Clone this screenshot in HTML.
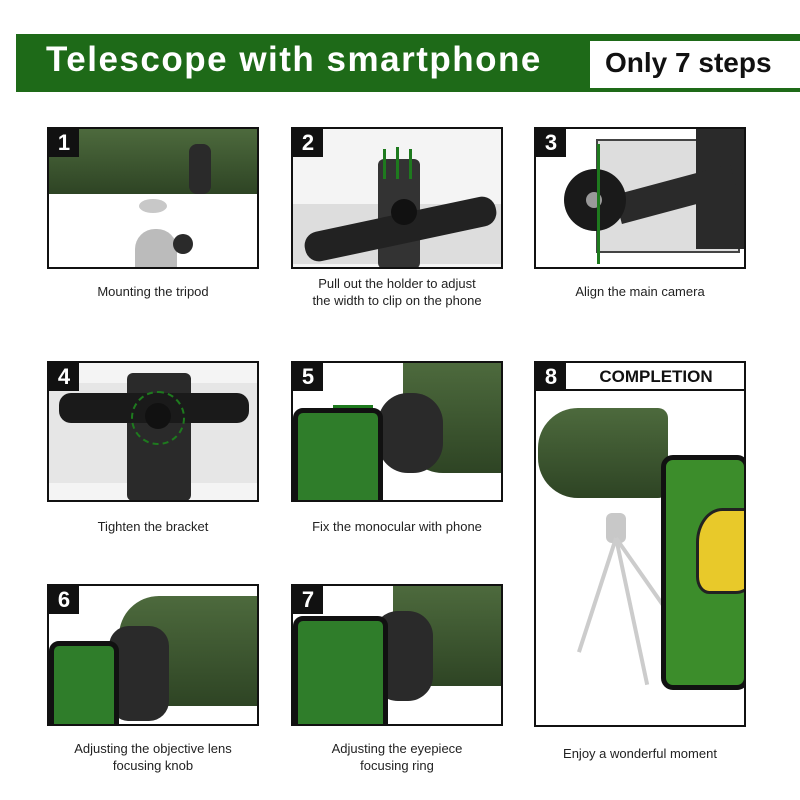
<!DOCTYPE html>
<html><head><meta charset="utf-8"><style>
body{margin:0;width:800px;height:800px;background:#fff;position:relative;overflow:hidden;font-family:"Liberation Sans",sans-serif}
.bar{position:absolute;left:16px;top:34px;width:784px;height:58px;background:#1e6a18}
.title{position:absolute;left:46px;top:40px;font-size:35px;font-weight:bold;color:#fff;letter-spacing:1.5px}
.only{position:absolute;left:590px;top:41px;width:210px;height:47px;background:#fff}
.only span{position:absolute;left:15px;top:6px;font-size:28px;font-weight:bold;color:#111}
.p{position:absolute;border:2px solid #111;box-sizing:border-box;overflow:hidden;background:#f4f4f4}
.n{position:absolute;left:0;top:0;width:30px;height:28px;background:#111;color:#fff;font-weight:bold;font-size:22px;text-align:center;line-height:28px;z-index:5}
.c{position:absolute;width:240px;text-align:center;font-size:13px;color:#222;line-height:17px}
.g{position:absolute;background:linear-gradient(180deg,#4d6a3d,#2e4424)}
.k{position:absolute;background:#2a2a2a}
.s{position:absolute;background:#c8c8c8}
</style></head><body>
<div class="bar"></div>
<div class="title">Telescope with smartphone</div>
<div class="only"><span>Only 7 steps</span></div>

<!-- 1 -->
<div class="p" style="left:47px;top:127px;width:212px;height:142px;background:#fff">
 <div class="g" style="left:0;top:0;width:210px;height:65px"></div>
 <div class="k" style="left:140px;top:15px;width:22px;height:50px;border-radius:8px"></div>
 <div class="s" style="left:90px;top:70px;width:28px;height:14px;border-radius:50%"></div>
 <div class="s" style="left:86px;top:100px;width:42px;height:40px;border-radius:20px 20px 0 0;background:#bbb"></div>
 <div class="k" style="left:124px;top:105px;width:20px;height:20px;border-radius:50%"></div>
 <div class="n">1</div>
</div>
<div class="c" style="left:33px;top:283px">Mounting the tripod</div>

<!-- 2 -->
<div class="p" style="left:291px;top:127px;width:212px;height:142px">
 <div style="position:absolute;left:0;top:75px;width:210px;height:60px;background:#ddd"></div>
 <div class="k" style="left:85px;top:30px;width:42px;height:110px;border-radius:6px;background:#333"></div>
 <div class="k" style="left:10px;top:85px;width:195px;height:30px;border-radius:14px;transform:rotate(-12deg);background:#222"></div>
 <div class="k" style="left:98px;top:70px;width:26px;height:26px;border-radius:50%;background:#111"></div>
 <div style="position:absolute;left:90px;top:20px;width:3px;height:30px;background:#1e7a1e"></div>
 <div style="position:absolute;left:103px;top:18px;width:3px;height:32px;background:#1e7a1e"></div>
 <div style="position:absolute;left:116px;top:20px;width:3px;height:30px;background:#1e7a1e"></div>
 <div class="n">2</div>
</div>
<div class="c" style="left:277px;top:275px">Pull out the holder to adjust<br>the width to clip on the phone</div>

<!-- 3 -->
<div class="p" style="left:534px;top:127px;width:212px;height:142px;background:#fff">
 <div style="position:absolute;left:60px;top:10px;width:140px;height:110px;background:#ddd;border:2px solid #444"></div>
 <div class="k" style="left:160px;top:0;width:50px;height:120px"></div>
 <div class="k" style="left:80px;top:50px;width:120px;height:30px;transform:rotate(-15deg)"></div>
 <div class="k" style="left:28px;top:40px;width:62px;height:62px;border-radius:50%;background:#1a1a1a"></div>
 <div style="position:absolute;left:50px;top:63px;width:16px;height:16px;border-radius:50%;background:#999"></div>
 <div style="position:absolute;left:61px;top:15px;width:3px;height:120px;background:#1e7a1e"></div>
 <div class="n">3</div>
</div>
<div class="c" style="left:520px;top:283px">Align the main camera</div>

<!-- 4 -->
<div class="p" style="left:47px;top:361px;width:212px;height:141px">
 <div style="position:absolute;left:0;top:20px;width:210px;height:100px;background:#e6e6e6"></div>
 <div class="k" style="left:78px;top:10px;width:64px;height:128px;border-radius:6px"></div>
 <div class="k" style="left:10px;top:30px;width:190px;height:30px;border-radius:12px;background:#1a1a1a"></div>
 <div style="position:absolute;left:82px;top:28px;width:50px;height:50px;border-radius:50%;border:2px dashed #1e7a1e"></div>
 <div class="k" style="left:96px;top:40px;width:26px;height:26px;border-radius:50%;background:#111"></div>
 <div class="n">4</div>
</div>
<div class="c" style="left:33px;top:518px">Tighten the bracket</div>

<!-- 5 -->
<div class="p" style="left:291px;top:361px;width:212px;height:141px;background:#fff">
 <div class="g" style="left:110px;top:0;width:100px;height:110px;border-radius:0 0 0 40px"></div>
 <div class="k" style="left:85px;top:30px;width:65px;height:80px;border-radius:30px"></div>
 <div style="position:absolute;left:0;top:45px;width:80px;height:95px;background:#2f7d2a;border:5px solid #111;border-radius:10px"></div>
 <div style="position:absolute;left:40px;top:42px;width:40px;height:3px;background:#1e7a1e"></div>
 <div class="n">5</div>
</div>
<div class="c" style="left:277px;top:518px">Fix the monocular with phone</div>

<!-- 6 -->
<div class="p" style="left:47px;top:584px;width:212px;height:142px;background:#fff">
 <div class="g" style="left:70px;top:10px;width:140px;height:110px;border-radius:40px 0 0 20px"></div>
 <div class="k" style="left:60px;top:40px;width:60px;height:95px;border-radius:20px"></div>
 <div style="position:absolute;left:0;top:55px;width:60px;height:90px;background:#2f7d2a;border:5px solid #111;border-radius:10px"></div>
 <div class="n">6</div>
</div>
<div class="c" style="left:33px;top:740px">Adjusting the objective lens<br>focusing knob</div>

<!-- 7 -->
<div class="p" style="left:291px;top:584px;width:212px;height:142px;background:#fff">
 <div class="g" style="left:100px;top:0;width:110px;height:100px;border-radius:0 0 0 30px"></div>
 <div class="k" style="left:80px;top:25px;width:60px;height:90px;border-radius:25px"></div>
 <div style="position:absolute;left:0;top:30px;width:85px;height:110px;background:#2f7d2a;border:5px solid #111;border-radius:10px"></div>
 <div class="n">7</div>
</div>
<div class="c" style="left:277px;top:740px">Adjusting the eyepiece<br>focusing ring</div>

<!-- 8 -->
<div class="p" style="left:534px;top:361px;width:212px;height:366px;background:#fff">
 <div class="n" style="width:30px">8</div>
 <div style="position:absolute;left:30px;top:0;width:180px;height:26px;border-bottom:2px solid #111;font-weight:bold;font-size:17px;text-align:center;line-height:28px;color:#111">COMPLETION</div>
 <div class="g" style="left:2px;top:45px;width:130px;height:90px;border-radius:40px 10px 10px 40px"></div>
 <div class="s" style="left:70px;top:150px;width:20px;height:30px;border-radius:6px"></div>
 <div style="position:absolute;left:78px;top:175px;width:4px;height:120px;background:#ccc;transform:rotate(18deg);transform-origin:top"></div>
 <div style="position:absolute;left:78px;top:175px;width:4px;height:150px;background:#ccc;transform:rotate(-12deg);transform-origin:top"></div>
 <div style="position:absolute;left:78px;top:175px;width:4px;height:150px;background:#ccc;transform:rotate(-35deg);transform-origin:top"></div>
 <div style="position:absolute;left:125px;top:92px;width:78px;height:225px;background:#3c8d2b;border:5px solid #111;border-radius:12px"></div>
 <div style="position:absolute;left:160px;top:145px;width:60px;height:80px;background:#e8c92a;border-radius:40% 10% 40% 20%;border:3px solid #222"></div>
 <div class="n" style="display:none"></div>
</div>
<div class="c" style="left:520px;top:745px">Enjoy a wonderful moment</div>
</body></html>
